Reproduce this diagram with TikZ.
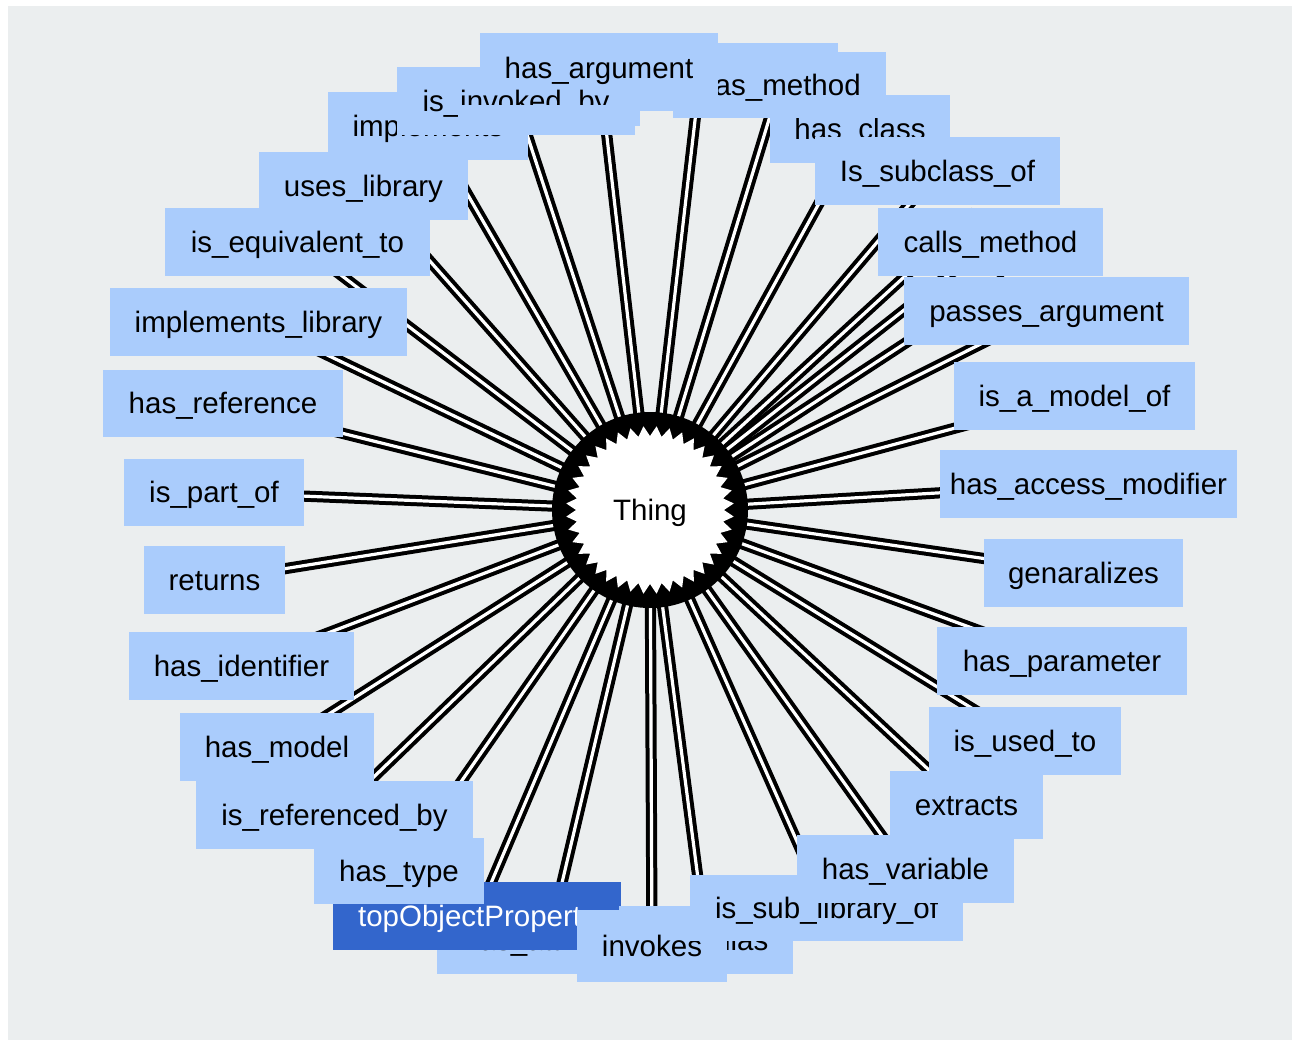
\documentclass[tikz,border=0pt]{standalone}
\usepackage{fontspec}
\setmainfont{Liberation Sans}
\definecolor{canvas}{RGB}{235,238,239}
\definecolor{propblue}{RGB}{170,204,252}
\definecolor{topblue}{RGB}{51,102,204}
\pgfdeclarelayer{back}
\pgfdeclarelayer{links}
\pgfsetlayers{back,links,main}
\tikzset{
  propbox/.style={rectangle, draw=none, inner sep=0pt, outer sep=0pt},
  proptext/.style={font=\fontsize{29.5}{35}\selectfont, anchor=base, inner sep=0pt, outer sep=0pt},
  link/.style={draw=black, line width=4pt, double=white, double distance=3.2pt},
}
% box of a property label, given by its corners (x1,y1)-(x2,y2)
\newcommand\labbox[6][propblue]{%
  \node[propbox, fill=#1, minimum width={(#5-#3)*1pt}, minimum height={(#6-#4)*1pt}]
    (#2) at ({(#3+#5)/2},{(#4+#6)/2}) {};}
% text of a property label, centred on its box
\newcommand\labtext[3][black]{%
  \node[proptext, text=#1] (#2-t) at ([yshift=-10pt]#2.center) {#3};}
\newcommand\prop[6]{\labbox{#1}{#2}{#3}{#4}{#5}\labtext{#1}{#6}}

\begin{document}
\begin{tikzpicture}[x=1pt, y=-1pt]
\useasboundingbox (0,0) rectangle (1298,1044);
\begin{pgfonlayer}{back}
  \fill[white] (0,0) rectangle (1298,1044);
  \fill[canvas] (8,6) rectangle (1292,1040);
\end{pgfonlayer}

% central class: black ring of arrow heads round a white disc
\node[circle, fill=black, minimum size=196pt, inner sep=0pt] (thing) at (650,510) {};
\begin{scope}[shift={(650,510)}]
  \fill[white] (0:74) \foreach \a in {0,9,...,351} { -- (\a+4.5:84) -- (\a+9:74) } -- cycle;
\end{scope}
\node[proptext] (thing-t) at ([yshift=-10pt]thing.center) {Thing};

% left side
\prop{useslib}{259}{152}{468}{220}{uses\_library}
\prop{equiv}{165}{208}{430}{276}{is\_equivalent\_to}
\prop{implib}{110}{288}{407}{356}{implements\_library}
\prop{reference}{103}{370}{343}{437}{has\_reference}
\prop{partof}{124}{459}{304}{526}{is\_part\_of}
\prop{returns}{144}{546}{285}{614}{returns}
\prop{ident}{129}{632}{354}{700}{has\_identifier}
\prop{hasmodel}{180}{713}{374}{781}{has\_model}
\prop{refby}{196}{781}{473}{849}{is\_referenced\_by}

% bottom
\prop{attr}{437}{906}{660}{974}{has\_attribute}
\labbox[topblue]{top}{333}{882}{621}{950}
\labtext[white]{top}{topObjectProperty}
\prop{type}{314}{838}{484}{904}{has\_type}
\prop{alias}{619}{906}{793}{974}{has\_alias}
\prop{invokes}{577}{910}{727}{982}{invokes}
\prop{sublib}{690}{875}{963}{941}{is\_sub\_library\_of}
\prop{variable}{797}{835}{1014}{903}{has\_variable}

% right side
\prop{extracts}{890}{771}{1043}{839}{extracts}
\prop{usedto}{929}{707}{1121}{775}{is\_used\_to}
\prop{param}{937}{627}{1187}{695}{has\_parameter}
\prop{gen}{984}{539}{1183}{607}{genaralizes}
\prop{access}{940}{450}{1237}{518}{has\_access\_modifier}
\prop{model}{954}{362}{1195}{430}{is\_a\_model\_of}
\prop{passes}{904}{277}{1189}{345}{passes\_argument}
\prop{calls}{878}{208}{1103}{276}{calls\_method}
\prop{hasclass}{770}{95}{950}{163}{has\_class}
\prop{subclass}{815}{137}{1060}{205}{Is\_subclass\_of}
\coordinate (htwo) at (975,212);
\coordinate (hthree) at (1005,278);

% top
\prop{impl}{328}{92}{528}{160}{implements}
\labbox{invoked}{397}{67}{635}{135}
\labbox{hone}{562}{43}{838}{111}
\prop{hasmethod}{673}{52}{886}{118}{has\_method}
\prop{hasarg}{480}{33}{718}{103}{has\_argument}
\labtext{invoked}{is\_invoked\_by}
\fill[propblue] (458,105) rectangle (640,126);

% connectors from the class to every property label
\begin{pgfonlayer}{links}
  \foreach \t in {hasarg,hone,hasmethod,hasclass,subclass,htwo,calls,hthree,passes,
                  model,access,gen,param,usedto,extracts,variable,sublib,alias,invokes,
                  attr,top,type,refby,hasmodel,ident,returns,partof,reference,implib,
                  equiv,useslib,impl,invoked}
    \draw[link] (thing.center) -- (\t.center);
\end{pgfonlayer}
\end{tikzpicture}
\end{document}
